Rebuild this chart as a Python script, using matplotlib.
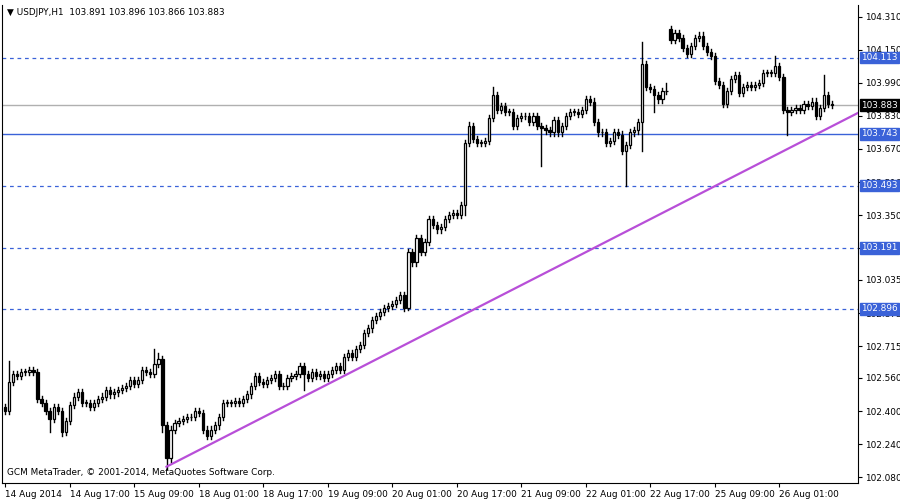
import matplotlib
matplotlib.use("Agg")
import matplotlib.pyplot as plt

SYMBOL_TITLE = "USDJPY,H1  103.891 103.896 103.866 103.883"
FIRST_OPEN = 102.42

closes = [
    102.40, 102.54, 102.58, 102.57, 102.59, 102.59, 102.60, 102.59, 102.46, 102.44,
    102.40, 102.36, 102.42, 102.40, 102.30, 102.35, 102.43, 102.47, 102.49, 102.44,
    102.44, 102.42, 102.44, 102.46, 102.47, 102.50, 102.48, 102.49, 102.50, 102.51,
    102.52, 102.55, 102.53, 102.55, 102.60, 102.59, 102.58, 102.63, 102.65, 102.33,
    102.17, 102.31, 102.34, 102.35, 102.36, 102.37, 102.37, 102.40, 102.39, 102.31,
    102.28, 102.31, 102.33, 102.37, 102.44, 102.44,
    102.44, 102.45, 102.44, 102.46, 102.48, 102.52, 102.57, 102.54, 102.53, 102.55,
    102.56, 102.58, 102.52, 102.52, 102.56, 102.57, 102.58, 102.62, 102.58, 102.56,
    102.59, 102.57, 102.58, 102.56, 102.58, 102.60, 102.62, 102.60, 102.66, 102.68,
    102.66, 102.70, 102.72, 102.78, 102.80, 102.84, 102.86, 102.88, 102.90, 102.91,
    102.92, 102.94, 102.96,
    102.90, 103.17, 103.12, 103.24, 103.17, 103.22, 103.33, 103.30, 103.28, 103.29,
    103.33, 103.35, 103.36, 103.35, 103.40, 103.70,
    103.78, 103.72, 103.70, 103.70, 103.71, 103.82, 103.93, 103.86, 103.88, 103.85,
    103.85, 103.78, 103.82, 103.83, 103.83, 103.80, 103.83, 103.78, 103.77, 103.76,
    103.75, 103.81, 103.75, 103.78, 103.83, 103.85, 103.85, 103.84, 103.86, 103.91,
    103.90, 103.80, 103.75, 103.75, 103.70, 103.71, 103.75, 103.74, 103.66, 103.69,
    103.75, 103.76, 103.80,
    104.08, 103.97, 103.96, 103.93, 103.91, 103.95, 103.95,
    104.20, 104.23, 104.21, 104.16, 104.13, 104.17, 104.21, 104.22, 104.17, 104.14,
    104.12, 104.00, 103.98, 103.89, 103.95, 104.01, 104.03, 103.94, 103.97, 103.98,
    103.97, 103.98, 103.99, 104.04, 104.04, 104.04, 104.07, 104.02, 103.86, 103.85,
    103.86, 103.87, 103.86, 103.89, 103.88, 103.90, 103.83, 103.87, 103.93, 103.89,
    103.883,
]

# opens that do not follow the previous close (weekend gap)
gap_opens = {165: 104.25}
# notable wick extremes
spike_highs = {1: 102.64, 37: 102.70, 38: 102.68, 121: 103.97, 158: 104.19,
               191: 104.12, 203: 104.03, 115: 103.80, 164: 103.99}
spike_lows = {11: 102.30, 14: 102.28, 39: 102.30, 40: 102.12, 74: 102.50,
              100: 102.89, 114: 103.35, 133: 103.59, 154: 103.49, 158: 103.66,
              194: 103.74, 161: 103.85}
DEFAULT_WICK = 0.015

levels_dashed = [104.113, 103.493, 103.191, 102.896]
level_solid = 103.743
bid = 103.883
trend_points = [(40, 102.13), (203, 103.76)]

price_ticks = [102.080, 102.240, 102.400, 102.560, 102.715, 102.875, 103.035,
               103.190, 103.350, 103.510, 103.670, 103.830, 103.990, 104.150, 104.310]
time_labels = ["14 Aug 2014", "14 Aug 17:00", "15 Aug 09:00", "18 Aug 01:00",
               "18 Aug 17:00", "19 Aug 09:00", "20 Aug 01:00", "20 Aug 17:00",
               "21 Aug 09:00", "22 Aug 01:00", "22 Aug 17:00", "25 Aug 09:00",
               "26 Aug 01:00"]
BARS_PER_LABEL = 16

BLUE = "#3a62d8"
FS = 6.4

fig = plt.figure(figsize=(9, 5), dpi=100)
ax = fig.add_axes([2 / 900, 17 / 500, 856 / 900, 478 / 500])
ax.set_xlim(-0.8, 211.5)
ax.set_ylim(102.051, 104.368)

prev = FIRST_OPEN
for i, c in enumerate(closes):
    o = gap_opens.get(i, prev)
    hi = spike_highs.get(i, max(o, c) + DEFAULT_WICK)
    lo = spike_lows.get(i, min(o, c) - DEFAULT_WICK)
    ax.plot([i, i], [lo, hi], color="black", lw=1, zorder=3)
    bottom = min(o, c)
    height = max(abs(c - o), 0.002)
    face = "white" if c >= o else "black"
    ax.bar(i, height, bottom=bottom, width=0.55, color=face, edgecolor="black",
           linewidth=0.9, zorder=4)
    prev = c

for lv in levels_dashed:
    ax.axhline(lv, color=BLUE, ls=(0, (3, 3)), lw=0.9, zorder=1)
ax.axhline(level_solid, color=BLUE, lw=1, zorder=1)
ax.axhline(bid, color="#b0b0b0", lw=1, zorder=1)

(x0, y0), (x1, y1) = trend_points
slope = (y1 - y0) / (x1 - x0)
x_end = 211.5
ax.plot([x0, x_end], [y0, y0 + slope * (x_end - x0)], color="#b84fd8", lw=1.6, zorder=5)

ax.yaxis.tick_right()
ax.set_yticks(price_ticks)
ax.set_yticklabels([f"{p:.3f}" for p in price_ticks], fontsize=FS)
ax.tick_params(axis="y", direction="out", length=3, pad=2)
ticks_x = [k * BARS_PER_LABEL for k in range(len(time_labels))]
ax.set_xticks(ticks_x)
ax.set_xticklabels(time_labels, fontsize=FS, ha="left")
ax.tick_params(axis="x", direction="out", length=3, pad=2)

for lv in levels_dashed + [level_solid]:
    ax.annotate(f"{lv:.3f}", xy=(1.0, lv), xycoords=("axes fraction", "data"),
                xytext=(2.5, 0), textcoords="offset points", va="center", ha="left",
                fontsize=FS, color="white", zorder=10,
                bbox=dict(boxstyle="square,pad=0.15", fc=BLUE, ec=BLUE))
ax.annotate(f"{bid:.3f}", xy=(1.0, bid), xycoords=("axes fraction", "data"),
            xytext=(2.5, 0), textcoords="offset points", va="center", ha="left",
            fontsize=FS, color="white", zorder=10,
            bbox=dict(boxstyle="square,pad=0.15", fc="black", ec="black"))

ax.text(0.006, 0.993, "\u25bc " + SYMBOL_TITLE, transform=ax.transAxes, fontsize=FS,
        va="top", ha="left")
ax.text(0.006, 0.012, "GCM MetaTrader, \u00a9 2001-2014, MetaQuotes Software Corp.",
        transform=ax.transAxes, fontsize=FS, va="bottom", ha="left")

ax.spines["top"].set_visible(False)

fig.savefig("out.png", dpi=100)
